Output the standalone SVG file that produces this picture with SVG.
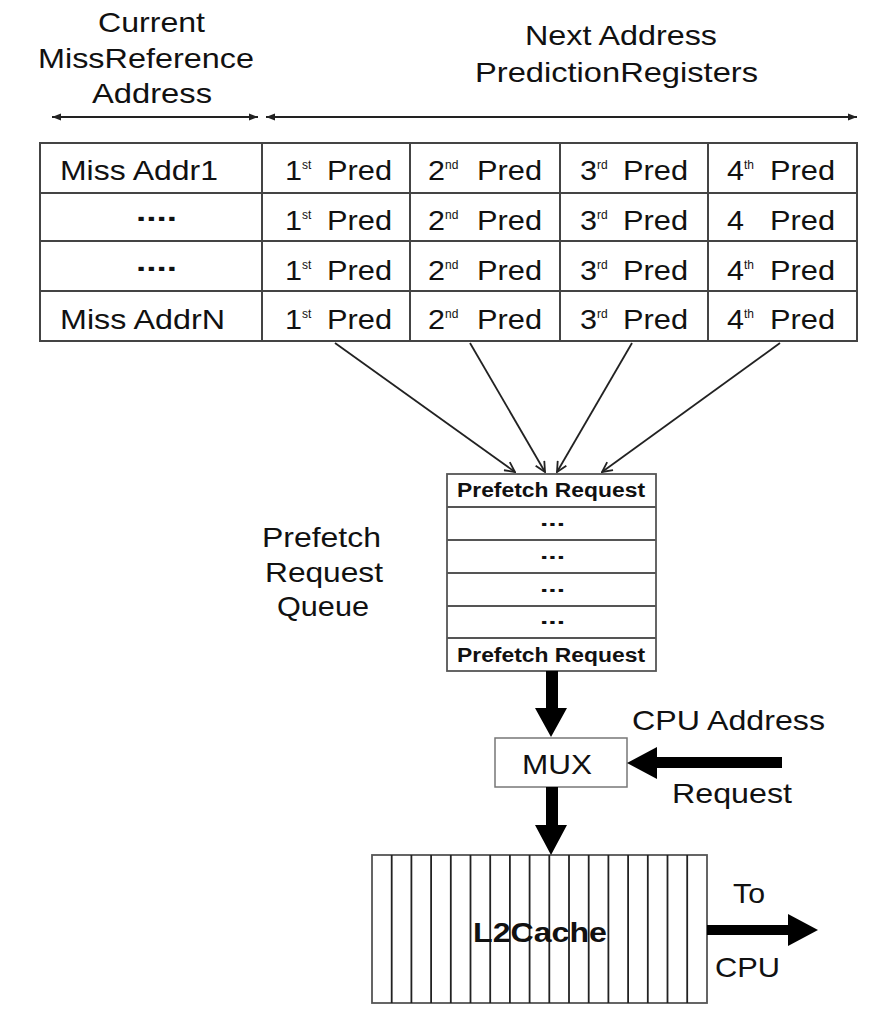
<svg xmlns="http://www.w3.org/2000/svg" width="896" height="1013" viewBox="0 0 896 1013">
  <style>
    text { font-family: "Liberation Sans", Arial, sans-serif; fill: #111; }
    .lbl { font-size: 28px; }
    .sup { font-size: 12px; }
    .q { font-size: 20px; font-weight: bold; }
    .b { font-weight: bold; }
    .grid { fill: #fff; stroke: #444; stroke-width: 2; }
    .gl { stroke: #444; stroke-width: 2; }
    .thin { stroke: #222; stroke-width: 1.8; fill: none; }
    .thick { fill: #000; }
  </style>
  <defs>
    <marker id="open" viewBox="0 0 12 12" refX="11" refY="6" markerWidth="12" markerHeight="12" markerUnits="userSpaceOnUse" orient="auto">
      <path d="M1,1 L11,6 L1,11" fill="none" stroke="#222" stroke-width="1.8"/>
    </marker>
    <marker id="dim" viewBox="0 0 10 10" refX="10" refY="5" markerWidth="9" markerHeight="9" markerUnits="userSpaceOnUse" orient="auto-start-reverse">
      <path d="M0,1 L10,5 L0,9 Z" fill="#222"/>
    </marker>
  </defs>
  <rect width="896" height="1013" fill="#fff"/>

  <g id="label-current">
    <text class="lbl" x="98" y="32" textLength="107" lengthAdjust="spacingAndGlyphs">Current</text>
    <text class="lbl" x="38" y="68" textLength="216" lengthAdjust="spacingAndGlyphs">MissReference</text>
    <text class="lbl" x="92" y="103" textLength="120" lengthAdjust="spacingAndGlyphs">Address</text>
  </g>
  <g id="label-next">
    <text class="lbl" x="525" y="45" textLength="192" lengthAdjust="spacingAndGlyphs">Next Address</text>
    <text class="lbl" x="475" y="82" textLength="283" lengthAdjust="spacingAndGlyphs">PredictionRegisters</text>
  </g>

  <g id="table">
    <rect class="grid" x="40" y="143" width="817" height="198"/>
    <line class="gl" x1="40" y1="193" x2="857" y2="193"/>
    <line class="gl" x1="40" y1="241" x2="857" y2="241"/>
    <line class="gl" x1="40" y1="291" x2="857" y2="291"/>
    <line class="gl" x1="262" y1="143" x2="262" y2="341"/>
    <line class="gl" x1="410" y1="143" x2="410" y2="341"/>
    <line class="gl" x1="560" y1="143" x2="560" y2="341"/>
    <line class="gl" x1="708" y1="143" x2="708" y2="341"/>

    <g id="row1">
      <text class="lbl" x="60" y="180" textLength="158" lengthAdjust="spacingAndGlyphs">Miss Addr1</text>
      <text class="lbl" x="285" y="180" textLength="17" lengthAdjust="spacingAndGlyphs">1</text><text class="sup" x="302" y="169">st</text><text class="lbl" x="327" y="180" textLength="65" lengthAdjust="spacingAndGlyphs">Pred</text>
      <text class="lbl" x="428" y="180" textLength="17" lengthAdjust="spacingAndGlyphs">2</text><text class="sup" x="445" y="169">nd</text><text class="lbl" x="477" y="180" textLength="65" lengthAdjust="spacingAndGlyphs">Pred</text>
      <text class="lbl" x="580" y="180" textLength="17" lengthAdjust="spacingAndGlyphs">3</text><text class="sup" x="597" y="169">rd</text><text class="lbl" x="623" y="180" textLength="65" lengthAdjust="spacingAndGlyphs">Pred</text>
      <text class="lbl" x="727" y="180" textLength="17" lengthAdjust="spacingAndGlyphs">4</text><text class="sup" x="744" y="169">th</text><text class="lbl" x="770" y="180" textLength="65" lengthAdjust="spacingAndGlyphs">Pred</text>
    </g>
    <g id="row2">
      <text class="lbl b" x="136" y="221" textLength="41" lengthAdjust="spacingAndGlyphs">....</text>
      <text class="lbl" x="285" y="230" textLength="17" lengthAdjust="spacingAndGlyphs">1</text><text class="sup" x="302" y="219">st</text><text class="lbl" x="327" y="230" textLength="65" lengthAdjust="spacingAndGlyphs">Pred</text>
      <text class="lbl" x="428" y="230" textLength="17" lengthAdjust="spacingAndGlyphs">2</text><text class="sup" x="445" y="219">nd</text><text class="lbl" x="477" y="230" textLength="65" lengthAdjust="spacingAndGlyphs">Pred</text>
      <text class="lbl" x="580" y="230" textLength="17" lengthAdjust="spacingAndGlyphs">3</text><text class="sup" x="597" y="219">rd</text><text class="lbl" x="623" y="230" textLength="65" lengthAdjust="spacingAndGlyphs">Pred</text>
      <text class="lbl" x="727" y="230" textLength="17" lengthAdjust="spacingAndGlyphs">4</text><text class="lbl" x="770" y="230" textLength="65" lengthAdjust="spacingAndGlyphs">Pred</text>
    </g>
    <g id="row3">
      <text class="lbl b" x="136" y="271" textLength="41" lengthAdjust="spacingAndGlyphs">....</text>
      <text class="lbl" x="285" y="280" textLength="17" lengthAdjust="spacingAndGlyphs">1</text><text class="sup" x="302" y="269">st</text><text class="lbl" x="327" y="280" textLength="65" lengthAdjust="spacingAndGlyphs">Pred</text>
      <text class="lbl" x="428" y="280" textLength="17" lengthAdjust="spacingAndGlyphs">2</text><text class="sup" x="445" y="269">nd</text><text class="lbl" x="477" y="280" textLength="65" lengthAdjust="spacingAndGlyphs">Pred</text>
      <text class="lbl" x="580" y="280" textLength="17" lengthAdjust="spacingAndGlyphs">3</text><text class="sup" x="597" y="269">rd</text><text class="lbl" x="623" y="280" textLength="65" lengthAdjust="spacingAndGlyphs">Pred</text>
      <text class="lbl" x="727" y="280" textLength="17" lengthAdjust="spacingAndGlyphs">4</text><text class="sup" x="744" y="269">th</text><text class="lbl" x="770" y="280" textLength="65" lengthAdjust="spacingAndGlyphs">Pred</text>
    </g>
    <g id="row4">
      <text class="lbl" x="60" y="329" textLength="165" lengthAdjust="spacingAndGlyphs">Miss AddrN</text>
      <text class="lbl" x="285" y="329" textLength="17" lengthAdjust="spacingAndGlyphs">1</text><text class="sup" x="302" y="318">st</text><text class="lbl" x="327" y="329" textLength="65" lengthAdjust="spacingAndGlyphs">Pred</text>
      <text class="lbl" x="428" y="329" textLength="17" lengthAdjust="spacingAndGlyphs">2</text><text class="sup" x="445" y="318">nd</text><text class="lbl" x="477" y="329" textLength="65" lengthAdjust="spacingAndGlyphs">Pred</text>
      <text class="lbl" x="580" y="329" textLength="17" lengthAdjust="spacingAndGlyphs">3</text><text class="sup" x="597" y="318">rd</text><text class="lbl" x="623" y="329" textLength="65" lengthAdjust="spacingAndGlyphs">Pred</text>
      <text class="lbl" x="727" y="329" textLength="17" lengthAdjust="spacingAndGlyphs">4</text><text class="sup" x="744" y="318">th</text><text class="lbl" x="770" y="329" textLength="65" lengthAdjust="spacingAndGlyphs">Pred</text>
    </g>
  </g>

  <g id="label-queue">
    <text class="lbl" x="262" y="547" textLength="119" lengthAdjust="spacingAndGlyphs">Prefetch</text>
    <text class="lbl" x="265" y="582" textLength="118" lengthAdjust="spacingAndGlyphs">Request</text>
    <text class="lbl" x="277" y="616" textLength="92" lengthAdjust="spacingAndGlyphs">Queue</text>
  </g>

  <g id="queue">
    <rect x="447" y="474" width="209" height="197" fill="#fff" stroke="#555" stroke-width="1.8"/>
    <line x1="447" y1="507" x2="656" y2="507" stroke="#555" stroke-width="1.8"/>
    <line x1="447" y1="540" x2="656" y2="540" stroke="#555" stroke-width="1.8"/>
    <line x1="447" y1="573" x2="656" y2="573" stroke="#555" stroke-width="1.8"/>
    <line x1="447" y1="606" x2="656" y2="606" stroke="#555" stroke-width="1.8"/>
    <line x1="447" y1="638" x2="656" y2="638" stroke="#555" stroke-width="1.8"/>
    <text class="q" x="457" y="497" textLength="188" lengthAdjust="spacingAndGlyphs">Prefetch Request</text>
    <text class="q" x="540" y="526" textLength="25" lengthAdjust="spacingAndGlyphs">...</text>
    <text class="q" x="540" y="559" textLength="25" lengthAdjust="spacingAndGlyphs">...</text>
    <text class="q" x="540" y="592" textLength="25" lengthAdjust="spacingAndGlyphs">...</text>
    <text class="q" x="540" y="624" textLength="25" lengthAdjust="spacingAndGlyphs">...</text>
    <text class="q" x="457" y="662" textLength="188" lengthAdjust="spacingAndGlyphs">Prefetch Request</text>
  </g>

  <g id="mux">
    <rect x="495" y="738" width="132" height="49" fill="#fff" stroke="#777" stroke-width="1.5"/>
    <text class="lbl" x="522" y="774" textLength="70" lengthAdjust="spacingAndGlyphs">MUX</text>
  </g>

  <g id="label-cpu-address">
    <text class="lbl" x="632" y="730" textLength="193" lengthAdjust="spacingAndGlyphs">CPU Address</text>
    <text class="lbl" x="672" y="803" textLength="120" lengthAdjust="spacingAndGlyphs">Request</text>
  </g>

  <g id="l2cache">
    <rect x="372" y="855" width="335" height="148" fill="#fff" stroke="#555" stroke-width="1.8"/>
    <g stroke="#222" stroke-width="1.8">
      <line x1="391.7" y1="855" x2="391.7" y2="1003"/>
      <line x1="411.4" y1="855" x2="411.4" y2="1003"/>
      <line x1="431.1" y1="855" x2="431.1" y2="1003"/>
      <line x1="450.8" y1="855" x2="450.8" y2="1003"/>
      <line x1="470.5" y1="855" x2="470.5" y2="1003"/>
      <line x1="490.2" y1="855" x2="490.2" y2="1003"/>
      <line x1="509.9" y1="855" x2="509.9" y2="1003"/>
      <line x1="529.6" y1="855" x2="529.6" y2="1003"/>
      <line x1="549.3" y1="855" x2="549.3" y2="1003"/>
      <line x1="569" y1="855" x2="569" y2="1003"/>
      <line x1="588.7" y1="855" x2="588.7" y2="1003"/>
      <line x1="608.4" y1="855" x2="608.4" y2="1003"/>
      <line x1="628.1" y1="855" x2="628.1" y2="1003"/>
      <line x1="647.8" y1="855" x2="647.8" y2="1003"/>
      <line x1="667.5" y1="855" x2="667.5" y2="1003"/>
      <line x1="687.2" y1="855" x2="687.2" y2="1003"/>
    </g>
    <text class="lbl b" x="473" y="942" textLength="134" lengthAdjust="spacingAndGlyphs">L2Cache</text>
  </g>

  <g id="label-to-cpu">
    <text class="lbl" x="733" y="903" textLength="32" lengthAdjust="spacingAndGlyphs">To</text>
    <text class="lbl" x="715" y="977" textLength="65" lengthAdjust="spacingAndGlyphs">CPU</text>
  </g>

  <g id="connectors">
    <line class="thin" x1="258" y1="117" x2="52" y2="117" marker-start="url(#dim)" marker-end="url(#dim)"/>
    <line class="thin" x1="266" y1="117" x2="857" y2="117" marker-start="url(#dim)" marker-end="url(#dim)"/>
    <line class="thin" x1="335" y1="343" x2="515" y2="472" marker-end="url(#open)"/>
    <line class="thin" x1="470" y1="343" x2="545" y2="472" marker-end="url(#open)"/>
    <line class="thin" x1="632" y1="343" x2="557" y2="472" marker-end="url(#open)"/>
    <line class="thin" x1="780" y1="343" x2="602" y2="472" marker-end="url(#open)"/>
    <polygon class="thick" points="546,671 558,671 558,708 567,708 551,737 535,708 546,708"/>
    <polygon class="thick" points="546,787 558,787 558,825 567,825 551,855 535,825 546,825"/>
    <polygon class="thick" points="782,757 782,768 657,768 657,779 627,763 657,747 657,757"/>
    <polygon class="thick" points="707,925 788,925 788,914 818,930 788,946 788,935 707,935"/>
  </g>
</svg>
